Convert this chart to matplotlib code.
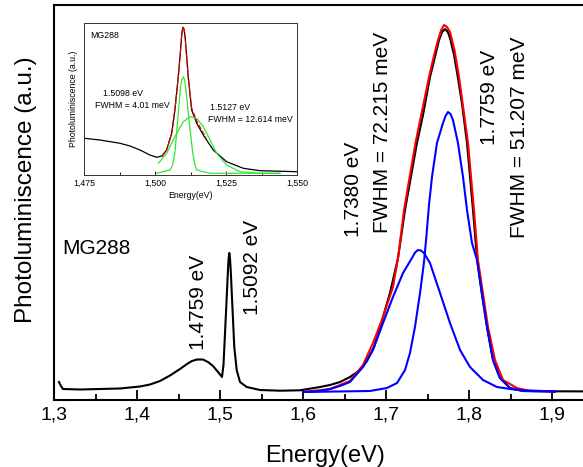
import matplotlib
matplotlib.use('Agg')
import matplotlib.pyplot as plt

plt.rcParams['font.family'] = ['Liberation Sans', 'DejaVu Sans']

# Main spectrum (measured PL, black)
pl_energy = [1.3060, 1.3084, 1.3108, 1.3313, 1.3554, 1.3795, 1.4036, 1.4157, 1.4277, 1.4398,
             1.4518, 1.4602, 1.4663, 1.4723, 1.4795, 1.4855, 1.4916, 1.4976, 1.5024, 1.5042,
             1.5072, 1.5096, 1.5104, 1.5112, 1.5120, 1.5129, 1.5153, 1.5172, 1.5201, 1.5241,
             1.5322, 1.5482, 1.5723, 1.5964, 1.6205, 1.6325, 1.6446, 1.6566, 1.6687, 1.6771,
             1.6855, 1.6928, 1.6988, 1.7048, 1.7145, 1.7229, 1.7373, 1.7446, 1.7530, 1.7566,
             1.7639, 1.7675, 1.7711, 1.7745, 1.7771, 1.7820, 1.7867, 1.7916, 1.7976, 1.8048,
             1.8096, 1.8157, 1.8217, 1.8289, 1.8373, 1.8494, 1.8651, 1.9000, 1.9800]
pl_intensity = [18, 14, 11, 10.5, 11, 11.5, 13.5, 15.5, 19, 24.5,
                31, 36, 39, 40.5, 40.5, 38, 34, 28, 23, 35,
                87, 130, 142, 147, 142, 130, 87, 53, 30, 18,
                13, 10, 9.3, 9.7, 13, 15, 18, 23, 30, 39,
                53, 72, 90, 107, 142, 190, 257, 285, 323, 335,
                360, 368, 371, 368, 362, 345, 322, 296, 257, 190,
                142, 105, 73, 40, 22, 12, 9, 8.7, 8.5]

# Cumulative fit (red)
fit_energy = [1.6000, 1.6325, 1.6566, 1.6723, 1.6843, 1.6964, 1.7084, 1.7145, 1.7217, 1.7355,
              1.7518, 1.7580, 1.7627, 1.7665, 1.7699, 1.7735, 1.7771, 1.7825, 1.7880, 1.7988,
              1.8060, 1.8108, 1.8229, 1.8313, 1.8410, 1.8578, 1.8735, 1.9036]
fit_intensity = [8, 11, 19, 35, 57, 83, 113, 142, 190, 257,
                 323, 345, 360, 370, 375, 373, 368, 350, 323, 257,
                 190, 140, 73, 40, 20, 12, 9, 8.5]

# Peak 1.7380 eV (blue, broad)
p1_energy = [1.6000, 1.6205, 1.6325, 1.6446, 1.6566, 1.6723, 1.6843, 1.6964, 1.7084, 1.7205,
             1.7313, 1.7350, 1.7386, 1.7420, 1.7458, 1.7530, 1.7651, 1.7771, 1.7892, 1.8012,
             1.8169, 1.8337, 1.8578, 1.9036]
p1_intensity = [8, 9, 11, 14, 18, 33, 50, 77, 103, 127,
                142, 147.5, 150, 149.5, 147, 137, 107, 77, 50, 33,
                20, 13, 10, 8.5]

# Peak 1.7759 eV (blue, narrow)
p2_energy = [1.6000, 1.6807, 1.7012, 1.7133, 1.7229, 1.7289, 1.7349, 1.7410, 1.7458, 1.7488,
             1.7518, 1.7554, 1.7614, 1.7687, 1.7717, 1.7747, 1.7777, 1.7807, 1.7867, 1.7928,
             1.7976, 1.8036, 1.8096, 1.8217, 1.8289, 1.8373, 1.8494, 1.8651, 1.9036]
p2_intensity = [8, 9, 12, 17, 30, 47, 73, 107, 138, 165,
                195, 223, 257, 277, 284, 288, 286, 280, 257, 223,
                190, 157, 140, 73, 40, 22, 12, 9, 8.5]

# Inset: zoom on the 1.51 eV line
in_energy = [1.4751, 1.4806, 1.4877, 1.4912, 1.4947, 1.4982, 1.5006, 1.5024, 1.5041, 1.5059,
             1.5070, 1.5082, 1.5090, 1.5094, 1.5098, 1.5102, 1.5106, 1.5117, 1.5129, 1.5147,
             1.5170, 1.5205, 1.5252, 1.5311, 1.5370, 1.5501]
in_intensity = [36.7, 35, 31.7, 29, 25, 20, 17.7, 19, 25, 42,
                65, 98.3, 125, 140, 147.7, 146, 138.3, 98.3, 65, 51.7,
                40, 25, 13.3, 6.7, 4.3, 3.3]

in_fit_energy = [1.5025, 1.5041, 1.5059, 1.5070, 1.5082, 1.5090, 1.5094, 1.5098, 1.5102, 1.5106,
                 1.5117, 1.5129, 1.5147, 1.5170, 1.5180]
in_fit_intensity = [18.5, 25, 42, 65, 98.3, 125, 140, 147.7, 146, 138.3,
                    98.3, 67, 54, 42, 37]

g1_energy = [1.5006, 1.5053, 1.5062, 1.5070, 1.5081, 1.5090, 1.5095, 1.5100, 1.5105, 1.5109,
             1.5121, 1.5133, 1.5140, 1.5147, 1.5194, 1.5440]
g1_intensity = [1.7, 5, 10, 22, 58, 88.3, 96, 98.3, 94, 85,
                51.7, 21.7, 11, 5, 1.7, 1.7]

g2_energy = [1.5012, 1.5041, 1.5070, 1.5100, 1.5123, 1.5147, 1.5170, 1.5194, 1.5217, 1.5252,
             1.5299, 1.5370, 1.5440]
g2_intensity = [11.7, 21.7, 38.3, 53.3, 58.3, 56.7, 48.3, 35, 21.7, 10,
                3.3, 1.7, 1.7]

main_ticks = [1.3, 1.4, 1.5, 1.6, 1.7, 1.8, 1.9]
main_labels = ['1,3', '1,4', '1,5', '1,6', '1,7', '1,8', '1,9']
inset_ticks = [1.475, 1.500, 1.525, 1.550]
inset_labels = ['1,475', '1,500', '1,525', '1,550']

fig = plt.figure(figsize=(5.83, 4.67), dpi=100)
ax = fig.add_axes([54 / 583, 67 / 467, 564.4 / 583, 395 / 467])

ax.plot(pl_energy, pl_intensity, color='black', lw=1.5)
ax.plot(fit_energy, fit_intensity, color='red', lw=1.5)
ax.plot(p1_energy, p1_intensity, color='blue', lw=1.5)
ax.plot(p2_energy, p2_intensity, color='blue', lw=1.5)

ax.set_xlim(1.3, 1.98)
ax.set_ylim(0, 395)
ax.set_xticks(main_ticks)
ax.set_xticklabels(main_labels)
ax.set_xticks([1.35, 1.45, 1.55, 1.65, 1.75, 1.85, 1.95], minor=True)
ax.set_yticks([])
ax.tick_params(axis='x', which='major', direction='in', length=7, width=1.3, labelsize=14, pad=5)
ax.tick_params(axis='x', which='minor', direction='in', length=4, width=1.3)
for s in ax.spines.values():
    s.set_linewidth(1.5)

ax.set_xlabel('Energy(eV)', fontsize=17)
ax.xaxis.set_label_coords(0.48, -0.113)
ax.set_ylabel('Photoluminiscence (a.u.)', fontsize=17.5)
ax.yaxis.set_label_coords(-0.031, 0.532)

ax.text(1.3096, 152, 'MG288', fontsize=15, ha='left', va='center')
ax.text(1.4735, 50, '1.4759 eV', fontsize=15, rotation=90, ha='center', va='bottom')
ax.text(1.5386, 85, '1.5092 eV', fontsize=15, rotation=90, ha='center', va='bottom')
ax.text(1.6614, 163, '1.7380 eV', fontsize=15, rotation=90, ha='center', va='bottom')
ax.text(1.6952, 167, 'FWHM = 72.215 meV', fontsize=15, rotation=90, ha='center', va='bottom')
ax.text(1.8253, 255, '1.7759 eV', fontsize=15, rotation=90, ha='center', va='bottom')
ax.text(1.8614, 162, 'FWHM = 51.207 meV', fontsize=15, rotation=90, ha='center', va='bottom')

# inset
axi = fig.add_axes([84 / 583, 292 / 467, 213 / 583, 152 / 467])
axi.plot(in_energy, in_intensity, color='black', lw=0.9)
axi.plot(in_fit_energy, in_fit_intensity, color='red', lw=0.9, ls='--')
axi.plot(g1_energy, g1_intensity, color='#33e633', lw=0.9)
axi.plot(g2_energy, g2_intensity, color='#33e633', lw=0.9)
axi.set_xlim(1.475, 1.550)
axi.set_ylim(0, 152)
axi.set_xticks(inset_ticks)
axi.set_xticklabels(inset_labels)
axi.set_xticks([1.4875, 1.5125, 1.5375], minor=True)
axi.set_yticks([])
axi.tick_params(axis='x', which='major', direction='in', length=3, width=0.6, labelsize=6.3, pad=3)
axi.tick_params(axis='x', which='minor', direction='in', length=2, width=0.6)
for s in axi.spines.values():
    s.set_linewidth(0.7)
    s.set_color('#333333')
axi.set_xlabel('Energy(eV)', fontsize=6.3, labelpad=2)
axi.set_ylabel('Photoluminiscence (a.u.)', fontsize=6.3, labelpad=4)

axi.text(1.4771, 144, 'MG288', fontsize=6.3, ha='left', va='top')
axi.text(1.4817, 81.5, '1.5098 eV', fontsize=6.3, ha='left', va='center')
axi.text(1.4789, 69.5, 'FWHM = 4.01 meV', fontsize=6.3, ha='left', va='center')
axi.text(1.5194, 67.5, '1.5127 eV', fontsize=6.3, ha='left', va='center')
axi.text(1.5187, 56, 'FWHM = 12.614 meV', fontsize=6.3, ha='left', va='center')

fig.savefig('out.png', dpi=100)
